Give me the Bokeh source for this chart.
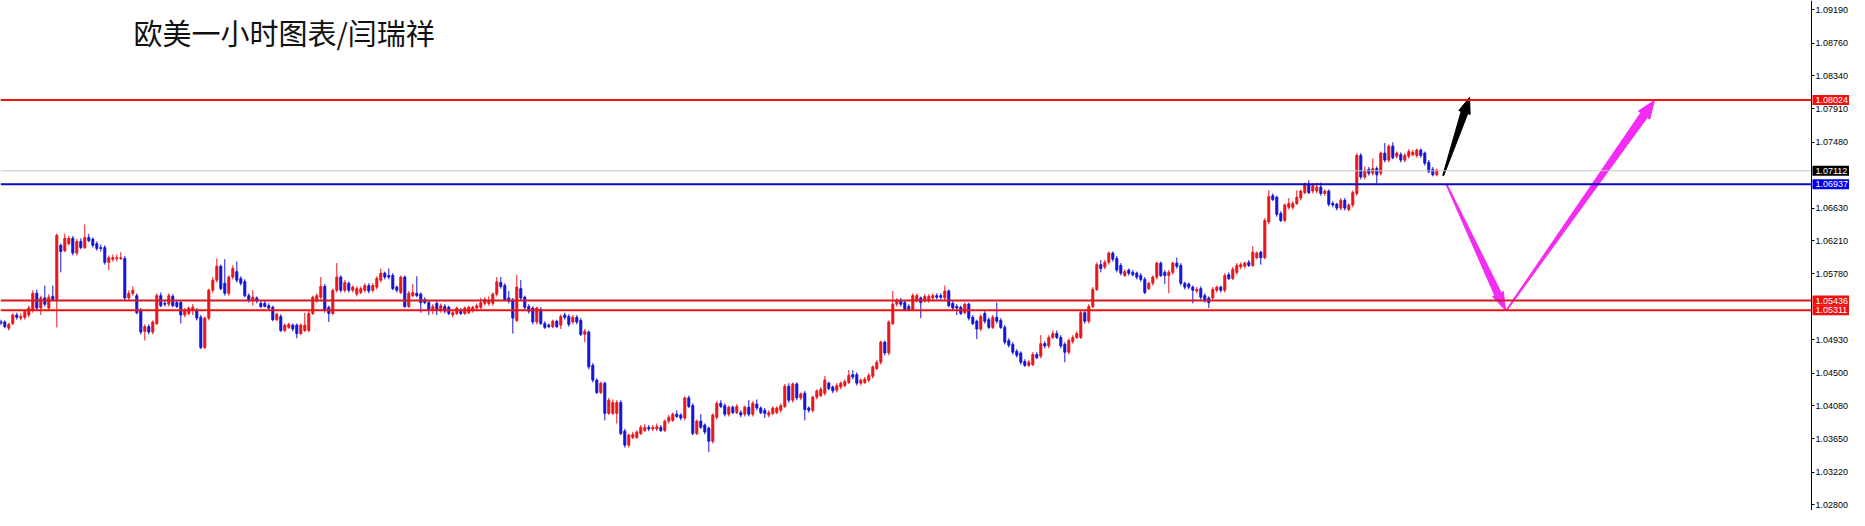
import math
from bokeh.plotting import figure
from bokeh.models import Range1d, LinearAxis, FixedTicker, Label, ColumnDataSource, PrintfTickFormatter
from bokeh.embed import file_html
from bokeh.resources import INLINE
from bokeh.core.properties import value

# ---------------- data (EURUSD H1 candles) ----------------
opens = [
1.0517,1.0516,1.0508,1.0514,1.0525,1.0521,1.0522,1.0525,1.0531,1.0553,
1.0534,1.0547,1.0534,1.0549,1.0545,1.0615,1.0608,1.0617,1.0624,1.0605,
1.0620,1.0612,1.0625,1.0623,1.0617,1.0612,1.0612,1.0593,1.0597,1.0598,
1.0598,1.0598,1.0547,1.0553,1.0550,1.0531,1.0504,1.0510,1.0503,1.0514,
1.0550,1.0540,1.0539,1.0549,1.0541,1.0541,1.0525,1.0527,1.0531,1.0531,
1.0522,1.0483,1.0521,1.0557,1.0570,1.0588,1.0566,1.0553,1.0574,1.0581,
1.0572,1.0568,1.0550,1.0544,1.0547,1.0540,1.0540,1.0537,1.0535,1.0519,
1.0523,1.0505,1.0509,1.0512,1.0512,1.0501,1.0505,1.0505,1.0527,1.0544,
1.0548,1.0562,1.0535,1.0527,1.0557,1.0574,1.0557,1.0566,1.0557,1.0552,
1.0554,1.0557,1.0563,1.0557,1.0561,1.0570,1.0579,1.0576,1.0576,1.0561,
1.0554,1.0574,1.0536,1.0550,1.0553,1.0552,1.0545,1.0541,1.0531,1.0540,
1.0531,1.0536,1.0535,1.0525,1.0527,1.0531,1.0527,1.0528,1.0531,1.0534,
1.0535,1.0540,1.0540,1.0540,1.0552,1.0567,1.0563,1.0547,1.0544,1.0518,
1.0559,1.0548,1.0536,1.0534,1.0516,1.0532,1.0514,1.0512,1.0510,1.0517,
1.0512,1.0525,1.0523,1.0516,1.0522,1.0518,1.0500,1.0503,1.0460,1.0441,
1.0425,1.0437,1.0398,1.0398,1.0398,1.0412,1.0375,1.0357,1.0367,1.0367,
1.0372,1.0376,1.0380,1.0378,1.0378,1.0380,1.0376,1.0388,1.0389,1.0397,
1.0396,1.0392,1.0418,1.0408,1.0372,1.0388,1.0383,1.0379,1.0362,1.0393,
1.0411,1.0408,1.0397,1.0406,1.0399,1.0399,1.0397,1.0406,1.0397,1.0410,
1.0405,1.0402,1.0396,1.0398,1.0399,1.0402,1.0407,1.0433,1.0415,1.0436,
1.0418,1.0424,1.0405,1.0402,1.0419,1.0421,1.0424,1.0437,1.0432,1.0428,
1.0432,1.0434,1.0438,1.0448,1.0448,1.0437,1.0438,1.0441,1.0446,1.0456,
1.0464,1.0490,1.0476,1.0514,1.0539,1.0544,1.0541,1.0536,1.0532,1.0544,
1.0547,1.0544,1.0544,1.0547,1.0550,1.0550,1.0547,1.0556,1.0540,1.0536,
1.0535,1.0528,1.0539,1.0522,1.0517,1.0507,1.0527,1.0519,1.0509,1.0522,
1.0518,1.0509,1.0492,1.0487,1.0478,1.0476,1.0465,1.0460,1.0461,1.0474,
1.0472,1.0488,1.0485,1.0496,1.0501,1.0496,1.0487,1.0477,1.0491,1.0496,
1.0496,1.0528,1.0517,1.0536,1.0558,1.0590,1.0587,1.0593,1.0605,1.0598,
1.0589,1.0576,1.0583,1.0580,1.0579,1.0576,1.0571,1.0559,1.0566,1.0574,
1.0592,1.0580,1.0576,1.0580,1.0592,1.0589,1.0566,1.0565,1.0561,1.0556,
1.0559,1.0550,1.0547,1.0547,1.0557,1.0561,1.0557,1.0577,1.0572,1.0580,
1.0587,1.0588,1.0593,1.0589,1.0599,1.0606,1.0599,1.0645,1.0679,1.0677,
1.0656,1.0647,1.0664,1.0664,1.0669,1.0676,1.0683,1.0694,1.0685,1.0685,
1.0690,1.0682,1.0685,1.0669,1.0668,1.0663,1.0673,1.0661,1.0667,1.0682,
1.0731,1.0703,1.0713,1.0708,1.0714,1.0708,1.0734,1.0725,1.0743,1.0730,
1.0732,1.0725,1.0730,1.0732,1.0731,1.0738,1.0734,1.0722,1.0713,1.0706,
]
highs = [
1.0519,1.0518,1.0515,1.0527,1.0528,1.0527,1.0532,1.0537,1.0557,1.0558,
1.0550,1.0563,1.0552,1.0563,1.0630,1.0617,1.0630,1.0627,1.0627,1.0623,
1.0624,1.0642,1.0630,1.0625,1.0620,1.0616,1.0615,1.0602,1.0603,1.0603,
1.0606,1.0601,1.0557,1.0562,1.0553,1.0534,1.0513,1.0513,1.0518,1.0553,
1.0554,1.0544,1.0553,1.0552,1.0544,1.0544,1.0534,1.0536,1.0539,1.0534,
1.0525,1.0523,1.0559,1.0574,1.0598,1.0590,1.0597,1.0576,1.0589,1.0594,
1.0575,1.0571,1.0553,1.0557,1.0549,1.0543,1.0543,1.0540,1.0537,1.0528,
1.0526,1.0514,1.0515,1.0514,1.0514,1.0514,1.0528,1.0530,1.0550,1.0553,
1.0574,1.0565,1.0537,1.0559,1.0592,1.0576,1.0570,1.0568,1.0563,1.0562,
1.0562,1.0566,1.0566,1.0566,1.0575,1.0585,1.0581,1.0585,1.0579,1.0563,
1.0576,1.0576,1.0556,1.0565,1.0575,1.0554,1.0548,1.0544,1.0539,1.0543,
1.0540,1.0539,1.0537,1.0531,1.0536,1.0534,1.0536,1.0537,1.0537,1.0540,
1.0547,1.0548,1.0549,1.0554,1.0574,1.0574,1.0566,1.0556,1.0547,1.0577,
1.0570,1.0550,1.0539,1.0536,1.0536,1.0535,1.0517,1.0514,1.0519,1.0519,
1.0526,1.0528,1.0526,1.0525,1.0525,1.0521,1.0507,1.0505,1.0463,1.0443,
1.0439,1.0439,1.0418,1.0416,1.0415,1.0415,1.0378,1.0372,1.0374,1.0376,
1.0383,1.0384,1.0383,1.0383,1.0385,1.0383,1.0390,1.0396,1.0399,1.0402,
1.0398,1.0420,1.0421,1.0411,1.0390,1.0397,1.0385,1.0381,1.0398,1.0414,
1.0415,1.0411,1.0408,1.0408,1.0410,1.0402,1.0408,1.0415,1.0414,1.0416,
1.0407,1.0405,1.0402,1.0407,1.0407,1.0411,1.0436,1.0437,1.0438,1.0438,
1.0425,1.0427,1.0407,1.0421,1.0429,1.0432,1.0446,1.0439,1.0434,1.0437,
1.0439,1.0442,1.0454,1.0454,1.0451,1.0443,1.0445,1.0450,1.0460,1.0467,
1.0492,1.0492,1.0518,1.0556,1.0547,1.0547,1.0544,1.0539,1.0553,1.0553,
1.0549,1.0552,1.0552,1.0553,1.0553,1.0553,1.0563,1.0558,1.0543,1.0539,
1.0537,1.0541,1.0541,1.0525,1.0519,1.0526,1.0530,1.0522,1.0525,1.0541,
1.0521,1.0512,1.0495,1.0490,1.0481,1.0478,1.0468,1.0467,1.0477,1.0477,
1.0499,1.0491,1.0499,1.0505,1.0505,1.0499,1.0490,1.0495,1.0499,1.0504,
1.0531,1.0531,1.0539,1.0561,1.0593,1.0596,1.0596,1.0607,1.0607,1.0601,
1.0592,1.0584,1.0585,1.0583,1.0581,1.0579,1.0574,1.0568,1.0576,1.0594,
1.0594,1.0583,1.0583,1.0594,1.0599,1.0592,1.0568,1.0567,1.0563,1.0561,
1.0562,1.0553,1.0549,1.0561,1.0563,1.0563,1.0579,1.0580,1.0587,1.0592,
1.0593,1.0594,1.0596,1.0614,1.0607,1.0608,1.0650,1.0686,1.0682,1.0679,
1.0659,1.0669,1.0676,1.0672,1.0686,1.0687,1.0696,1.0699,1.0695,1.0696,
1.0696,1.0687,1.0687,1.0672,1.0670,1.0676,1.0676,1.0669,1.0686,1.0734,
1.0734,1.0717,1.0716,1.0727,1.0717,1.0736,1.0747,1.0745,1.0748,1.0736,
1.0735,1.0734,1.0739,1.0738,1.0740,1.0740,1.0736,1.0725,1.0716,1.0714,
]
lows = [
1.0512,1.0508,1.0505,1.0512,1.0519,1.0518,1.0519,1.0522,1.0528,1.0531,
1.0525,1.0536,1.0531,1.0543,1.0509,1.0580,1.0606,1.0615,1.0602,1.0602,
1.0610,1.0610,1.0619,1.0612,1.0608,1.0607,1.0590,1.0583,1.0594,1.0594,
1.0596,1.0544,1.0544,1.0550,1.0526,1.0500,1.0492,1.0500,1.0500,1.0512,
1.0535,1.0536,1.0536,1.0535,1.0534,1.0514,1.0522,1.0525,1.0525,1.0518,
1.0481,1.0481,1.0518,1.0554,1.0567,1.0557,1.0550,1.0550,1.0571,1.0567,
1.0563,1.0548,1.0541,1.0537,1.0540,1.0534,1.0535,1.0531,1.0517,1.0517,
1.0503,1.0503,1.0507,1.0504,1.0495,1.0499,1.0503,1.0503,1.0525,1.0541,
1.0545,1.0528,1.0516,1.0525,1.0554,1.0554,1.0554,1.0554,1.0554,1.0549,
1.0552,1.0554,1.0553,1.0554,1.0558,1.0567,1.0571,1.0571,1.0557,1.0554,
1.0552,1.0534,1.0534,1.0548,1.0548,1.0528,1.0539,1.0525,1.0526,1.0525,
1.0528,1.0527,1.0525,1.0522,1.0525,1.0525,1.0525,1.0526,1.0528,1.0531,
1.0532,1.0537,1.0537,1.0537,1.0549,1.0559,1.0543,1.0540,1.0501,1.0516,
1.0544,1.0532,1.0527,1.0513,1.0513,1.0512,1.0507,1.0508,1.0508,1.0508,
1.0507,1.0519,1.0510,1.0513,1.0513,1.0498,1.0490,1.0455,1.0438,1.0423,
1.0423,1.0389,1.0396,1.0396,1.0385,1.0370,1.0354,1.0354,1.0365,1.0365,
1.0370,1.0374,1.0375,1.0375,1.0375,1.0374,1.0374,1.0385,1.0387,1.0392,
1.0389,1.0389,1.0405,1.0370,1.0370,1.0378,1.0371,1.0348,1.0359,1.0390,
1.0405,1.0394,1.0394,1.0397,1.0397,1.0393,1.0394,1.0394,1.0394,1.0402,
1.0397,1.0392,1.0393,1.0396,1.0397,1.0399,1.0405,1.0412,1.0412,1.0415,
1.0415,1.0389,1.0399,1.0399,1.0416,1.0419,1.0421,1.0428,1.0424,1.0425,
1.0429,1.0432,1.0436,1.0442,1.0434,1.0434,1.0436,1.0438,1.0443,1.0454,
1.0461,1.0473,1.0473,1.0512,1.0536,1.0536,1.0530,1.0530,1.0530,1.0541,
1.0521,1.0541,1.0541,1.0544,1.0545,1.0545,1.0544,1.0535,1.0531,1.0525,
1.0525,1.0526,1.0518,1.0512,1.0494,1.0504,1.0514,1.0507,1.0507,1.0514,
1.0507,1.0487,1.0483,1.0474,1.0470,1.0461,1.0458,1.0458,1.0459,1.0468,
1.0469,1.0482,1.0482,1.0494,1.0494,1.0482,1.0464,1.0474,1.0488,1.0494,
1.0494,1.0514,1.0514,1.0534,1.0556,1.0580,1.0584,1.0590,1.0594,1.0580,
1.0576,1.0574,1.0576,1.0575,1.0571,1.0568,1.0552,1.0557,1.0563,1.0571,
1.0574,1.0565,1.0553,1.0577,1.0585,1.0563,1.0558,1.0558,1.0540,1.0553,
1.0545,1.0541,1.0534,1.0544,1.0554,1.0554,1.0554,1.0570,1.0570,1.0577,
1.0584,1.0585,1.0587,1.0587,1.0597,1.0590,1.0597,1.0642,1.0672,1.0652,
1.0645,1.0645,1.0661,1.0661,1.0667,1.0673,1.0681,1.0681,1.0682,1.0682,
1.0679,1.0679,1.0665,1.0664,1.0660,1.0660,1.0660,1.0659,1.0664,1.0679,
1.0700,1.0700,1.0705,1.0705,1.0695,1.0705,1.0722,1.0722,1.0726,1.0727,
1.0722,1.0722,1.0727,1.0730,1.0728,1.0728,1.0718,1.0708,1.0704,1.0704,
]
closes = [
1.0514,1.0510,1.0513,1.0525,1.0522,1.0523,1.0530,1.0534,1.0553,1.0534,
1.0547,1.0539,1.0548,1.0545,1.0628,1.0607,1.0624,1.0624,1.0605,1.0620,
1.0612,1.0625,1.0621,1.0615,1.0611,1.0611,1.0593,1.0599,1.0599,1.0599,
1.0599,1.0547,1.0553,1.0557,1.0528,1.0503,1.0510,1.0503,1.0516,1.0550,
1.0537,1.0539,1.0550,1.0537,1.0536,1.0525,1.0531,1.0534,1.0535,1.0521,
1.0483,1.0521,1.0557,1.0570,1.0588,1.0559,1.0553,1.0574,1.0585,1.0570,
1.0566,1.0550,1.0544,1.0548,1.0543,1.0536,1.0536,1.0534,1.0519,1.0526,
1.0505,1.0512,1.0513,1.0507,1.0501,1.0512,1.0512,1.0527,1.0548,1.0550,
1.0562,1.0531,1.0527,1.0557,1.0574,1.0557,1.0567,1.0557,1.0561,1.0559,
1.0559,1.0563,1.0556,1.0563,1.0572,1.0579,1.0574,1.0574,1.0559,1.0557,
1.0574,1.0536,1.0553,1.0554,1.0550,1.0541,1.0541,1.0531,1.0536,1.0531,
1.0537,1.0530,1.0527,1.0528,1.0534,1.0527,1.0534,1.0535,1.0535,1.0537,
1.0541,1.0545,1.0544,1.0552,1.0568,1.0562,1.0545,1.0543,1.0521,1.0561,
1.0547,1.0535,1.0530,1.0516,1.0534,1.0514,1.0509,1.0510,1.0517,1.0510,
1.0523,1.0522,1.0513,1.0522,1.0516,1.0500,1.0504,1.0458,1.0441,1.0425,
1.0437,1.0398,1.0415,1.0412,1.0412,1.0372,1.0357,1.0370,1.0371,1.0374,
1.0380,1.0380,1.0378,1.0380,1.0381,1.0376,1.0388,1.0393,1.0397,1.0394,
1.0392,1.0418,1.0407,1.0372,1.0388,1.0380,1.0374,1.0362,1.0396,1.0411,
1.0407,1.0397,1.0406,1.0399,1.0407,1.0396,1.0406,1.0397,1.0411,1.0405,
1.0399,1.0398,1.0399,1.0405,1.0405,1.0408,1.0433,1.0415,1.0436,1.0418,
1.0423,1.0403,1.0402,1.0419,1.0427,1.0429,1.0441,1.0430,1.0427,1.0434,
1.0437,1.0439,1.0447,1.0445,1.0437,1.0441,1.0442,1.0447,1.0458,1.0464,
1.0490,1.0476,1.0516,1.0539,1.0544,1.0539,1.0532,1.0532,1.0550,1.0550,
1.0541,1.0549,1.0549,1.0550,1.0548,1.0548,1.0556,1.0537,1.0534,1.0534,
1.0527,1.0539,1.0521,1.0514,1.0507,1.0523,1.0517,1.0509,1.0522,1.0517,
1.0509,1.0490,1.0486,1.0477,1.0473,1.0464,1.0460,1.0464,1.0474,1.0470,
1.0488,1.0485,1.0496,1.0501,1.0496,1.0485,1.0477,1.0492,1.0496,1.0501,
1.0528,1.0517,1.0536,1.0558,1.0590,1.0585,1.0593,1.0605,1.0597,1.0583,
1.0579,1.0581,1.0579,1.0577,1.0574,1.0571,1.0554,1.0566,1.0574,1.0592,
1.0576,1.0576,1.0580,1.0592,1.0588,1.0566,1.0561,1.0561,1.0557,1.0558,
1.0548,1.0544,1.0541,1.0558,1.0561,1.0557,1.0576,1.0572,1.0584,1.0589,
1.0590,1.0592,1.0589,1.0606,1.0605,1.0599,1.0647,1.0678,1.0674,1.0655,
1.0647,1.0667,1.0669,1.0669,1.0677,1.0685,1.0694,1.0683,1.0692,1.0690,
1.0682,1.0685,1.0668,1.0667,1.0663,1.0673,1.0663,1.0667,1.0683,1.0731,
1.0703,1.0712,1.0708,1.0714,1.0706,1.0734,1.0725,1.0743,1.0728,1.0734,
1.0725,1.0731,1.0736,1.0735,1.0738,1.0731,1.0721,1.0710,1.0706,1.0712,
]

# price-axis ticks (labels hidden under the level boxes are left out)
tick_values = [1.09190, 1.08760, 1.08340, 1.07910, 1.07480, 1.06630, 1.06210,
               1.05780, 1.04930, 1.04500, 1.04080, 1.03650, 1.03220, 1.02800]

# horizontal levels
level_prices = [1.08024, 1.07112, 1.06937, 1.05436, 1.05311]
level_labels = ["1.08024", "1.07112", "1.06937", "1.05436", "1.05311"]
level_line_colors = ["#EE1111", "#C8C8C8", "#0C0CB8", "#D01A24", "#F01212"]
level_line_widths = [2, 1, 2, 2, 2]
level_box_colors = ["#F01010", "#000000", "#0000F0", "#F01010", "#F01010"]

# drawn arrows (bar index, price)
black_arrow_x = [360.6, 367.2]
black_arrow_y = [1.0705, 1.0806]
magenta_down_x = [361.4, 376.2]
magenta_down_y = [1.0694, 1.0531]
magenta_up_x = [376.4, 413.4]
magenta_up_y = [1.0531, 1.0802]

title_text = "欧美一小时图表/闫瑞祥"

# ---------------- figure ----------------
W, H = 1849, 510
X0, X1 = -0.075, 462.175        # 4 px per bar over the full width
Y0, Y1 = 1.0272643, 1.0931005
AXIS_X = 452.675                # where the price scale sits

sx = W / (X1 - X0)              # px per bar
sy = H / (Y1 - Y0)              # px per price unit

p = figure(width=W, height=H, output_backend="svg", toolbar_location=None,
           x_range=Range1d(X0, X1), y_range=Range1d(Y0, Y1),
           x_axis_location=None, y_axis_location=None,
           min_border_left=0, min_border_right=0, min_border_top=0, min_border_bottom=0)
p.outline_line_color = None
p.background_fill_color = "white"
p.border_fill_color = "white"
p.grid.visible = False

ax = LinearAxis(ticker=FixedTicker(ticks=tick_values),
                formatter=PrintfTickFormatter(format="%.5f"),
                fixed_location=AXIS_X)
ax.major_label_text_font = "Liberation Sans"
ax.major_label_text_font_size = "9px"
ax.major_label_text_color = "#000000"
ax.axis_line_color = "#000000"
ax.axis_line_width = 1
ax.major_tick_line_color = "#000000"
ax.major_tick_out = 3
ax.major_tick_in = 0
ax.minor_tick_line_color = None
ax.major_label_standoff = 1
p.add_layout(ax, "right")

# candles
UP, DOWN = "#E8161C", "#1414D6"
idx = list(range(len(closes)))
colors = [UP if c >= o else DOWN for o, c in zip(opens, closes)]
src = ColumnDataSource(dict(
    x=idx,
    top=[max(o, c) for o, c in zip(opens, closes)],
    bottom=[min(o, c) for o, c in zip(opens, closes)],
    high=highs, low=lows, color=colors))
p.segment(x0="x", y0="low", x1="x", y1="high", source=src, line_color="color", line_width=1)
p.vbar(x="x", width=0.5, top="top", bottom="bottom", source=src,
       fill_color="color", line_color="color", line_width=1)

# arrows (tapered shaft + head), built in pixel space
def arrow_poly(xa, ya, xb, yb, w_tail, w_base, head_w, head_len):
    ax_, ay_ = xa * sx, ya * sy
    bx_, by_ = xb * sx, yb * sy
    dx, dy = bx_ - ax_, by_ - ay_
    L = math.hypot(dx, dy)
    ux, uy = dx / L, dy / L
    nx, ny = -uy, ux
    hx, hy = bx_ - ux * head_len, by_ - uy * head_len
    pts = [(ax_ + nx * w_tail / 2, ay_ + ny * w_tail / 2),
           (hx + nx * w_base / 2, hy + ny * w_base / 2),
           (hx + nx * head_w / 2, hy + ny * head_w / 2),
           (bx_, by_),
           (hx - nx * head_w / 2, hy - ny * head_w / 2),
           (hx - nx * w_base / 2, hy - ny * w_base / 2),
           (ax_ - nx * w_tail / 2, ay_ - ny * w_tail / 2)]
    return [q[0] / sx for q in pts], [q[1] / sy for q in pts]

for xs_, ys_, col, wb, hw, hl in [
        (black_arrow_x, black_arrow_y, "#000000", 7, 12, 16),
        (magenta_down_x, magenta_down_y, "#F22CF2", 7, 12, 18),
        (magenta_up_x, magenta_up_y, "#F22CF2", 8, 14, 18)]:
    px_, py_ = arrow_poly(xs_[0], ys_[0], xs_[1], ys_[1], 1, wb, hw, hl)
    p.patch(px_, py_, fill_color=col, line_color=col, line_width=1)

# level lines, ending at the price scale
n = len(level_prices)
p.segment(x0=[X0] * n, x1=[AXIS_X] * n, y0=level_prices, y1=level_prices,
          line_color=level_line_colors, line_width=level_line_widths)

# level price boxes on the scale
half_h = 5.0 / sy
p.quad(left=[AXIS_X + 0.25] * n, right=[X1] * n,
       top=[v + half_h for v in level_prices], bottom=[v - half_h for v in level_prices],
       fill_color=level_box_colors, line_color=None)
p.text(x=[AXIS_X + 1.0] * n, y=level_prices, text=level_labels,
       text_color="white", text_font=value("Liberation Sans"), text_font_size=value("9px"),
       text_baseline="middle", text_align="left")

# title
p.add_layout(Label(x=133, y=479, x_units="screen", y_units="screen", text=title_text,
                   text_font="Noto Sans CJK SC", text_font_size="29px", text_color="#111111",
                   text_baseline="alphabetic", text_align="left"))

open("out.html", "w").write(file_html(p, INLINE, "chart"))
